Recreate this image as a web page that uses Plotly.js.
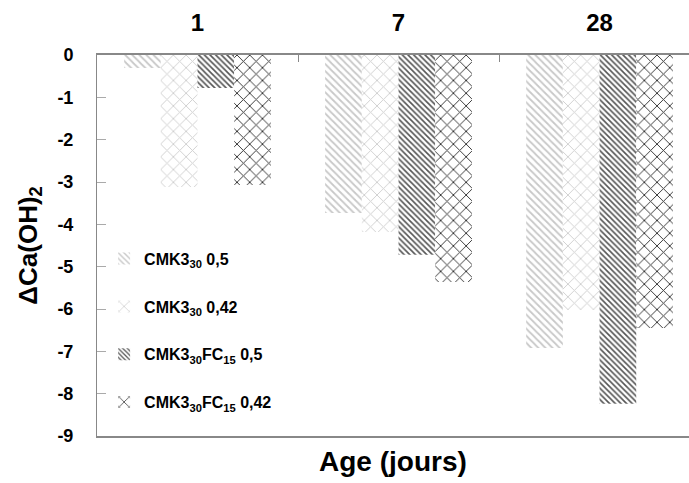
<!DOCTYPE html>
<html><head><meta charset="utf-8">
<script src="https://cdn.plot.ly/plotly-3.0.1.min.js"></script>
<style>html,body{margin:0;padding:0;background:#fff}</style>
</head><body><div id="chart" style="width:689px;height:483px"></div>
<script>
var categories = ['1', '7', '28'];
var seriesNames = ['<b>CMK3<sub>30</sub> 0,5</b>', '<b>CMK3<sub>30</sub> 0,42</b>', '<b>CMK3<sub>30</sub>FC<sub>15</sub> 0,5</b>', '<b>CMK3<sub>30</sub>FC<sub>15</sub> 0,42</b>'];
var s1 = [-0.31, -3.73, -6.92];
var s2 = [-3.12, -4.18, -6.02];
var s3 = [-0.78, -4.72, -8.24];
var s4 = [-3.07, -5.36, -6.45];
var yTicks = [0, -1, -2, -3, -4, -5, -6, -7, -8, -9];

var FONT = 'Liberation Sans, Arial, sans-serif';
var values = [s1, s2, s3, s4];
var patterns = [
  {shape: '\\', fgcolor: '#c8c8c8', bgcolor: '#ffffff', size: 5, solidity: 0.35},
  {shape: 'x', fgcolor: '#d0d0d0', bgcolor: '#ffffff', size: 9, solidity: 0.2},
  {shape: '\\', fgcolor: '#555555', bgcolor: '#ffffff', size: 4, solidity: 0.4},
  {shape: 'x', fgcolor: '#333333', bgcolor: '#ffffff', size: 9, solidity: 0.2}
];
var traces = values.map(function(v, i) {
  return {
    type: 'bar', x: categories, y: v, name: seriesNames[i], legendgroup: 'g' + i,
    marker: {color: '#ffffff', line: {width: 0}, pattern: patterns[i]}
  };
});
var layout = {
  width: 689, height: 483,
  margin: {l: 97, r: 0, t: 55, b: 47},
  paper_bgcolor: '#ffffff', plot_bgcolor: '#ffffff',
  font: {family: FONT, color: '#000'},
  barmode: 'group', bargap: 0.27, bargroupgap: 0,
  showlegend: true,
  legend: {x: 0.012, y: 0.51, xanchor: 'left', yanchor: 'top', bgcolor: 'rgba(0,0,0,0)',
    font: {size: 16, family: FONT}, tracegroupgap: 24, traceorder: 'grouped', itemwidth: 30},
  xaxis: {
    type: 'category', side: 'top', range: [-0.5, 2.445],
    showline: true, linecolor: '#888888', linewidth: 2, mirror: true,
    ticks: 'inside', tickson: 'boundaries', ticklen: 7, tickcolor: '#888888',
    tickfont: {size: 24, family: FONT},
    tickprefix: '<b>', ticksuffix: '</b>', ticklabelstandoff: 12,
    showgrid: false, zeroline: false, fixedrange: true
  },
  yaxis: {
    range: [-9, 0], tickvals: yTicks, ticktext: yTicks.map(function(t){return '<b>' + t + '</b>';}),
    showline: true, linecolor: '#888888', linewidth: 1,
    ticks: 'inside', ticklen: 9, tickcolor: '#aaaaaa',
    tickfont: {size: 18, family: FONT}, ticklabelstandoff: 19,
    showgrid: false, zeroline: false,
    title: {text: '<b>ΔCa(OH)<sub>2</sub></b>', font: {size: 26, family: FONT}, standoff: 12}
  },
  annotations: [{
    xref: 'paper', yref: 'paper', x: 0.5, y: -0.068, xanchor: 'center', yanchor: 'middle',
    text: '<b>Age (jours)</b>', showarrow: false, font: {size: 28, family: FONT}
  }]
};
Plotly.newPlot('chart', traces, layout, {displayModeBar: false, staticPlot: true});
</script></body></html>
